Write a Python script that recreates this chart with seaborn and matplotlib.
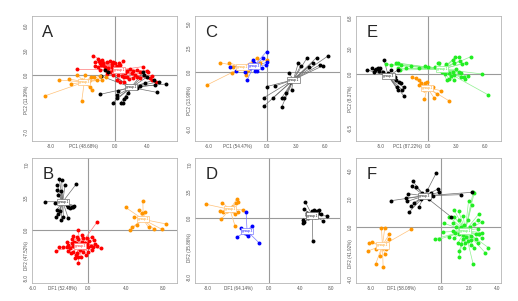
import numpy as np
import matplotlib
matplotlib.use("Agg")
import matplotlib.pyplot as plt
import seaborn as sns

sns.set_style("white")
plt.rcParams["font.family"] = ["Liberation Sans", "DejaVu Sans"]

# ---------------- panel A (PCA) ----------------
a_red = [(-2.71, 2.32), (-2.17, 1.91), (-2.5, 1.63), (-2.0, 1.71), (-1.67, 1.83), (-1.46, 1.42),
         (-1.04, 1.63), (-0.63, 1.75), (-0.21, 1.63), (0, 1.42), (0.54, 1.5), (1.04, 1.75),
         (-2.5, 1.1), (-2.08, 1.02), (-1.75, 1.18), (-1.25, 1.02), (-0.83, 0.81), (-0.42, 1.02),
         (0.21, 1.1), (0.63, 1.18), (-4.71, 0.69), (-1.88, 0.61), (-1.04, 0.53), (-0.63, 0.41),
         (-0.21, 0.61), (0.21, 0.45), (0.63, 0.61), (1.04, 0.41), (1.46, 0.53), (1.88, 0.69),
         (2.29, 0.53), (2.71, 0.61), (3.13, 0.41), (3.46, 1.02), (3.96, 0.53), (4.17, 0.41),
         (0.42, 0), (0.83, -0.12), (1.13, -0.28), (1.54, -0.2), (0.29, -0.61), (0.63, -0.81),
         (1.17, -0.81), (1.79, -0.53), (2.21, -0.41), (2.71, -0.28), (3.13, -0.41), (4.38, -0.41),
         (4.58, -0.61), (5.13, -0.81), (-0.21, 0), (-1.04, 0.12), (-1.46, 1.22), (0, 0.81),
         (-1.88, 1.5), (-0.42, 1.34), (1.25, 0.2), (2.08, 0.2), (2.5, 0), (4.58, -0.12)]
a_black = [(-1.75, -0.12), (-1.25, 0.61), (-0.83, 0.41), (3.54, 0.41), (3.63, 0), (3.96, -0.28),
           (4.88, -0.61), (5.54, -0.81), (5.0, -1.22), (6.33, -1.1), (5.21, -2.11), (0.42, -1.91),
           (0.29, -2.44), (0.21, -2.85), (-0.29, -3.37), (0.71, -3.37), (0.96, -3.37), (1.67, -2.24),
           (1.38, -2.64), (1.13, -2.97), (-1.88, -2.36), (2.71, -1.63), (3.13, -1.34), (3.75, -1.02)]
a_orange = [(-6.96, -0.61), (-5.83, -0.45), (-5.54, -1.1), (-4.71, 0), (-4.17, -0.61), (-3.75, 0),
            (-3.21, -0.69), (-3.04, -0.28), (-2.58, -0.2), (-2.29, -0.61), (-1.88, -0.12),
            (-3.13, -1.5), (-2.92, -1.83), (-4.17, -3.13), (-8.83, -2.56), (-1.13, -0.28),
            (-1.67, -0.61), (-3.63, -0.93)]

# ---------------- panel B (DFA) ----------------
b_black = [(-3.12, 5.45), (-2.87, 5.38), (-3.33, 4.84), (-2.51, 4.84), (-1.33, 4.91), (-3.41, 4.3),
           (-2.94, 4.23), (-3.23, 3.76), (-4.66, 3.05), (-3.58, 2.94), (-2.69, 3.05), (-2.33, 2.69),
           (-2.15, 2.51), (-1.97, 2.4), (-1.79, 2.51), (-1.61, 2.51), (-1.54, 2.62), (-3.41, 2.15),
           (-3.23, 1.72), (-2.69, 1.43), (-2.15, 1.25), (-2.94, 1.08), (-3.48, 1.36), (-3.05, 2.08)]
b_orange = [(5.84, 3.15), (3.98, 2.44), (5.38, 2.15), (5.73, 1.86), (6.09, 1.97), (4.84, 1.43),
            (5.91, 1.15), (6.27, 1.08), (8.35, 0.65), (7.89, 0.07), (7.06, 0.07), (6.45, 0.29),
            (4.66, 0.29), (4.48, 0), (5.2, 0.54)]
b_red = [(0.9, 0.82), (-1.08, 0), (-1.68, -0.61), (-1.25, -0.72), (-1.79, -1.0), (-1.08, -1.0),
         (-0.61, -0.9), (-0.11, -0.82), (0.36, -0.72), (0.11, -1.15), (0.65, -1.08), (0.9, -1.72),
         (1.33, -1.97), (0.54, -1.86), (0, -1.79), (-0.36, -1.43), (-0.72, -1.25), (-1.33, -1.43),
         (-1.79, -1.43), (-2.33, -1.25), (-3.12, -1.86), (-2.69, -1.86), (-2.33, -1.86),
         (-1.97, -1.97), (-3.48, -2.22), (-2.15, -2.26), (-1.61, -2.33), (-1.25, -2.44),
         (-0.9, -2.15), (-0.54, -2.33), (0, -2.33), (0.36, -2.15), (-1.33, -2.69), (-1.08, -2.94),
         (-0.79, -2.87), (-1.43, -3.05), (-1.08, -3.51), (-1.68, -1.72), (-0.9, -1.72),
         (-0.18, -1.51), (0.25, -1.72), (-0.47, -1.97), (-1.9, -2.51), (-0.25, -2.69),
         (0.72, -1.51), (-0.72, -0.54), (-1.54, -1.25), (-2.15, -1.61)]

# ---------------- panel C (PCA) ----------------
c_black = [(2.34, -0.14), (3.28, 0.9), (3.52, 0.63), (4.21, 1.49), (4.41, 0.56), (4.76, 0.97),
           (5.17, 1.49), (5.52, 0.73), (5.79, 0.63), (6.41, 1.7), (0, -1.53), (0.86, -1.46),
           (-0.24, -2.67), (-0.24, -3.54), (0.62, -2.74), (1.55, -2.74), (1.83, -2.74), (2.0, -2.22),
           (1.59, -3.61), (2.59, -1.88), (2.41, -1.01)]
c_blue = [(0, 2.12), (-0.34, 1.42), (0.07, 1.01), (-1.31, 0.97), (-1.1, 0.56), (-0.52, 0.38),
          (-3.79, 0.56), (-3.17, 0.14), (-2.24, 0.03), (-1.21, 0.1), (-1.03, 0.14), (-0.07, 0.73),
          (-2.0, -0.83), (-1.72, 0.38), (-1.45, 1.25)]
c_orange = [(-4.83, 0.97), (-3.9, 0.97), (-3.52, 0.56), (-6.14, -1.35), (-3.62, -0.14), (-1.03, 1.42),
            (-1.45, 1.08), (0.07, 1.25), (-0.97, 0.73), (-2.14, 0.03), (-2.14, -0.31), (-1.9, 0.21),
            (-2.76, 0.38), (-0.69, 0.9)]

# ---------------- panel D (DFA) ----------------
d_orange = [(-8.26, 1.83), (-6.13, 2.05), (-6.43, 1.0), (-6.0, 0.87), (-4.91, 1.53), (-4.26, 2.49),
            (-4.04, 2.18), (-4.35, 1.97), (-4.78, 1.0), (-4.48, 0.57), (-3.48, 1.09), (-4.04, 0.87),
            (-6.3, -0.13), (-4.48, -1.0), (-5.48, 1.0)]
d_blue = [(-3.04, 0.87), (-3.7, -1.31), (-3.48, -1.62), (-4.26, -2.49), (-2.96, -2.05), (-2.74, -2.31),
          (-2.61, -1.88), (-2.3, -1.0), (-1.3, -3.28), (-3.17, -1.88), (-2.52, -1.53)]
d_black = [(4.65, 2.18), (4.52, 1.18), (4.35, -0.22), (4.43, -0.66), (4.87, 0.44), (5.09, 0),
           (5.52, 1.0), (5.74, 0.87), (5.87, 1.09), (6.17, 1.0), (6.39, 0.74), (6.52, 1.09),
           (6.7, 0.57), (6.96, -0.31), (7.57, 0.31), (5.65, -2.93), (5.3, 0.31), (5.96, 0.13),
           (4.52, -0.44), (4.96, 0.74)]

# ---------------- panel E (PCA) ----------------
e_black = [(-6.39, 0.48), (-5.89, 0.68), (-5.68, 0.28), (-5.54, 0.48), (-5.26, 0.68), (-5.02, 0.68),
           (-4.63, 1.68), (-4.74, 0.28), (-4.21, 0.08), (-3.86, 0.48), (-3.16, 0.48), (-3.33, -0.72),
           (-3.51, -0.32), (-3.05, -0.92), (-2.81, -1.12), (-3.26, -1.6), (-2.7, -1.92), (-2.56, -1.6),
           (-2.53, -2.64), (-3.16, -1.92), (-5.44, 0.56), (-5.16, 0.36)]
e_green = [(-4.39, 1.2), (-3.86, 1.08), (-3.4, 1.36), (-3.16, 1.28), (-2.81, 1.08), (-2.28, 0.68),
           (-1.75, 0.96), (-0.25, 0.96), (1.23, 1.28), (1.05, 1.36), (1.93, 1.2), (2.63, 1.68),
           (2.91, 2.0), (3.26, 2.08), (2.81, 1.36), (3.4, 1.6), (3.61, 1.2), (4.04, 1.36), (4.56, 2.08),
           (1.51, 0.28), (1.86, 0), (2.28, 0.16), (2.63, 0.28), (2.81, -0.12), (2.46, -0.24),
           (2.0, -0.72), (2.28, -0.64), (2.81, -0.72), (3.33, 0.28), (3.51, -0.32), (3.86, -0.4),
           (3.96, -0.64), (4.21, -0.24), (5.79, 0), (6.42, -2.52), (-2.91, 0.48), (-3.16, 0.68),
           (1.93, 0.68), (2.98, 0.56), (0, 0.88), (0.81, 0.88), (-0.88, 0.68), (3.51, 0.16), (1.3, 0.48)]
e_orange = [(-1.65, -0.32), (-1.3, -0.52), (-0.95, -0.72), (-0.7, -1.04), (-0.25, -1.04), (-0.11, -0.92),
            (-0.46, -1.6), (-0.35, -1.92), (0.6, -1.52), (1.4, -2.0), (0.95, -2.4), (0.7, -2.92),
            (-0.35, -3.04), (2.28, -3.24), (0.18, -1.72), (-0.88, -1.32)]

# ---------------- panel F (DFA) ----------------
f_black = [(-0.35, 3.86), (-2.0, 3.26), (-2.05, 2.9), (-1.76, 2.86), (-1.34, 2.43), (-1.01, 2.62),
           (-0.24, 2.71), (-0.12, 2.48), (-0.71, 2.43), (-1.53, 2.31), (-2.35, 2.38), (-2.47, 2.07),
           (-3.53, 1.88), (-2.4, 1.83), (-1.95, 1.71), (-2.12, 1.48), (-1.58, 1.43), (-2.28, 1.05),
           (-1.41, 2.0), (1.41, 2.31), (2.19, 2.48), (-0.87, 2.0), (0.71, 0.71), (-0.59, 2.19)]
f_orange = [(-4.24, -0.07), (-4.0, -0.07), (-3.69, -0.55), (-4.94, -1.1), (-5.11, -1.14), (-5.18, -1.74),
            (-4.64, -1.62), (-4.35, -2.14), (-4.0, -1.98), (-3.69, -0.9), (-3.88, -1.33), (-4.12, -2.93),
            (-4.66, -2.71), (-2.16, -0.19), (-4.16, -1.5), (-3.93, -1.62)]
f_green = [(2.28, 2.48), (1.95, 1.83), (2.19, 1.6), (2.35, 2.43), (0.94, 1.19), (1.25, 1.12), (0.59, 0.71),
           (0.94, 0.71), (1.58, 0.76), (1.88, 0.52), (1.29, 0.48), (0.24, 0.24), (0.82, 0.29), (1.06, 0),
           (1.41, 0), (1.65, 0.1), (2.05, 0), (2.35, 0.17), (2.71, 0.95), (2.66, 0.52), (2.89, 0.33),
           (2.94, -0.43), (2.71, -0.55), (2.94, -0.79), (2.47, -0.55), (2.12, -0.67), (1.76, -0.71),
           (1.58, -0.62), (1.29, -0.55), (1.01, -0.43), (0.82, -0.31), (0.16, -0.38), (-0.4, -0.86),
           (-0.12, -0.9), (0.54, -0.71), (1.18, -1.19), (1.41, -1.26), (1.88, -1.02), (2.12, -1.33),
           (1.65, -1.5), (2.35, -1.5), (2.66, -1.14), (3.13, -1.86), (3.36, -1.5), (1.29, -1.74),
           (1.25, -2.21), (2.28, -2.69), (2.12, -0.95), (2.47, -0.9), (1.58, -0.9), (1.34, -0.14),
           (2.0, -0.24), (2.59, -0.14), (0.94, -0.79), (1.72, -1.14)]

group_names = ["group 1", "group 2", "group 3"]

# point colour, star colour
RED = ("#ff0000", "#ff7a7a")
BLACK = ("#000000", "#6e6e6e")
ORANGE = ("#ff9500", "#ffc27a")
BLUE = ("#0000ff", "#7a7aff")
GREEN = ("#22ee22", "#90f090")

panels = [
    dict(letter="A", pos=(32, 16), groups=[(a_red, RED), (a_black, BLACK), (a_orange, ORANGE)],
         xlim=(-10.4, 7.75), ylim=(-8.05, 7.2),
         xt=[-8, -4, 0, 4], xl=["-8.0", "PC1 (48.68%)", "0.0", "4.0"],
         yt=[-7, -3, 0, 3, 6], yl=["-7.0", "PC2 (11.39%)", "0.0", "3.0", "6.0"]),
    dict(letter="B", pos=(32, 158), groups=[(b_black, BLACK), (b_orange, ORANGE), (b_red, RED)],
         xlim=(-6.05, 9.5), ylim=(-5.7, 7.75),
         xt=[-6, -2.8, 0, 4, 8], xl=["-6.0", "DF1 (52.48%)", "0.0", "4.0", "8.0"],
         yt=[-5.2, -2.7, 0, 3.5, 7], yl=["-5.0", "DF2 (47.52%)", "0.0", "3.5", "7.0"]),
    dict(letter="C", pos=(195, 16), groups=[(c_black, BLACK), (c_orange, ORANGE), (c_blue, BLUE)],
         xlim=(-7.4, 7.6), ylim=(-7.2, 5.83),
         xt=[-6, -3, 0, 3, 6], xl=["-6.0", "PC1 (54.47%)", "0.0", "3.0", "6.0"],
         yt=[-6, -3, 0, 2.5, 5], yl=["-6.0", "PC2 (13.98%)", "0.0", "2.5", "5.0"]),
    dict(letter="D", pos=(195, 158), groups=[(d_black, BLACK), (d_orange, ORANGE), (d_blue, BLUE)],
         xlim=(-9.7, 9.2), ylim=(-8.5, 7.9),
         xt=[-8, -4, 0, 4, 8], xl=["-8.0", "DF1 (64.14%)", "0.0", "4.0", "8.0"],
         yt=[-7.7, -3.9, 0, 3.5, 7], yl=["-8.0", "DF2 (35.86%)", "0.0", "3.5", "7.0"]),
    dict(letter="E", pos=(356, 16), groups=[(e_green, GREEN), (e_orange, ORANGE), (e_black, BLACK)],
         xlim=(-7.6, 7.75), ylim=(-8.04, 6.96),
         xt=[-5, -2.2, 0, 3, 6], xl=["-5.0", "PC1 (87.22%)", "0.0", "3.0", "6.0"],
         yt=[-6.5, -3, 0, 3, 6.8], yl=["-6.5", "PC2 (8.37%)", "0.0", "3.0", "6.8"]),
    dict(letter="F", pos=(356, 158), groups=[(f_green, GREEN), (f_orange, ORANGE), (f_black, BLACK)],
         xlim=(-6.05, 4.26), ylim=(-4.05, 4.95),
         xt=[-5, -2.8, 0, 2, 4], xl=["-5.0", "DF1 (58.08%)", "0.0", "2.0", "4.0"],
         yt=[-3.8, -1.9, 0, 2, 4], yl=["-4.0", "DF2 (41.92%)", "0.0", "2.0", "4.0"]),
]

W, H = 518, 301
fig = plt.figure(figsize=(W / 100, H / 100), dpi=100)

for p in panels:
    left, top = p["pos"]
    ax = fig.add_axes([left / W, 1 - (top + 125) / H, 145 / W, 125 / H])
    ax.axhline(0, color="#9a9a9a", lw=0.8, zorder=0)
    ax.axvline(0, color="#9a9a9a", lw=0.8, zorder=0)
    for gi, (pts, (col, light)) in enumerate(p["groups"]):
        pts = np.array(pts)
        cx, cy = pts.mean(axis=0)
        for x, y in pts:
            ax.plot([cx, x], [cy, y], color=light, lw=0.5, zorder=1)
        sns.scatterplot(x=pts[:, 0], y=pts[:, 1], color=col, s=8, linewidth=0, ax=ax, zorder=3)
        ax.text(cx, cy, group_names[gi], fontsize=2.2, color=col, ha="center", va="center", zorder=4,
                bbox=dict(boxstyle="square,pad=0.35", fc="white", ec=light, lw=0.5))
    ax.set_xlim(*p["xlim"])
    ax.set_ylim(*p["ylim"])
    ax.set_xticks(p["xt"])
    ax.set_xticklabels(p["xl"], fontsize=3.3, color="#555555")
    ax.set_yticks(p["yt"])
    ax.set_yticklabels(p["yl"], fontsize=3.3, color="#555555", rotation=90, va="center")
    ax.tick_params(length=0, pad=2)
    for s in ax.spines.values():
        s.set_color("#b5b5b5")
        s.set_linewidth(0.6)
    ax.text(0.07, 0.87, p["letter"], transform=ax.transAxes, fontsize=12, ha="left", va="center")

fig.savefig("out.png", dpi=100, facecolor="white")
